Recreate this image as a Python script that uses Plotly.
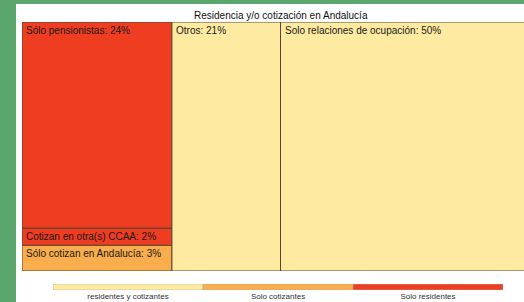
import plotly.graph_objects as go

# ---- data ----
groups = ["Grupo 1", "Otros", "Solo relaciones de ocupación"]
cell_labels = ["Sólo cotizan en Andalucía", "Cotizan en otra(s) CCAA", "Sólo pensionistas",
               "Otros", "Solo relaciones de ocupación"]
cell_group = [0, 0, 0, 1, 2]
cell_values = [3, 2, 24, 21, 50]
cell_kind = ["Solo cotizantes", "Solo residentes", "Solo residentes",
             "residentes y cotizantes", "residentes y cotizantes"]
legend_labels = ["residentes y cotizantes", "Solo cotizantes", "Solo residentes"]
legend_colors = ["#FEEAA0", "#F9AD4C", "#EF3D22"]
title_text = "Residencia y/o cotización en Andalucía"

color_of = dict(zip(legend_labels, legend_colors))

W, H = 524, 302
fig = go.Figure()

# group totals and x positions
gtot = [sum(v for v, g in zip(cell_values, cell_group) if g == i) for i in range(len(groups))]
total = sum(gtot)
gleft = []
acc = 0
for t in gtot:
    gleft.append(acc / total * 100)
    acc += t
gwidth = [t / total * 100 for t in gtot]

bases = [0.0] * len(groups)
annotations = []
for lab, g, v, k in zip(cell_labels, cell_group, cell_values, cell_kind):
    h = v / gtot[g] * 100
    b = bases[g]
    bases[g] += h
    fig.add_trace(go.Bar(
        x=[gleft[g] + gwidth[g] / 2], y=[h], base=[b], width=[gwidth[g]],
        marker=dict(color=color_of[k], line=dict(color="#5a4632", width=1)),
        xaxis="x", yaxis="y", showlegend=False, hoverinfo="skip",
    ))
    annotations.append(dict(
        x=gleft[g], y=b + h, xref="x", yref="y", xanchor="left", yanchor="top",
        text=f"{lab}: {v}%", showarrow=False, xshift=2, yshift=-1,
        font=dict(family="Liberation Sans, Arial", size=10, color="#1a1a1a"),
    ))

# legend colour bar
n = len(legend_labels)
fig.add_trace(go.Bar(
    y=[0] * n, x=[1] * n, base=list(range(n)), orientation="h", width=[1] * n,
    marker=dict(color=legend_colors, line=dict(color="#b8b0a0", width=0.6)),
    xaxis="x2", yaxis="y2", showlegend=False, hoverinfo="skip",
))

px_w = 517 / 100.0  # pixels per percent
fig.update_layout(
    width=W, height=H,
    margin=dict(l=0, r=0, t=0, b=0),
    paper_bgcolor="white", plot_bgcolor="rgba(0,0,0,0)",
    barmode="overlay",
    xaxis=dict(domain=[22 / W, 1], range=[0, (W - 22) / px_w], visible=False, fixedrange=True),
    yaxis=dict(domain=[(H - 271) / H, (H - 22) / H], range=[0, 100], visible=False, fixedrange=True),
    xaxis2=dict(domain=[53 / W, 503 / W], range=[0, n], anchor="y2",
                tickvals=[i + 0.5 for i in range(n)], ticktext=legend_labels,
                ticks="", showgrid=False, zeroline=False, showline=False, fixedrange=True,
                tickfont=dict(family="Liberation Sans, Arial", size=8, color="#333")),
    yaxis2=dict(domain=[(H - 290) / H, (H - 284) / H], range=[-0.5, 0.5], visible=False,
                fixedrange=True),
    annotations=annotations + [dict(
        x=281 / W, y=(H - 15) / H, xref="paper", yref="paper", text=title_text,
        showarrow=False, font=dict(family="Liberation Sans, Arial", size=10, color="#111"),
        xanchor="center", yanchor="middle")],
    shapes=[
        dict(type="rect", xref="paper", yref="paper", x0=0, x1=16 / W, y0=0, y1=1,
             fillcolor="#5BA66C", line=dict(width=0), layer="below"),
        dict(type="rect", xref="paper", yref="paper", x0=0, x1=1, y0=(H - 4) / H, y1=1,
             fillcolor="#5BA66C", line=dict(width=0), layer="below"),
    ],
)

fig.write_html("out.html", config={"displayModeBar": False},
               post_script="document.body.style.margin='0';document.body.style.overflow='hidden';")
